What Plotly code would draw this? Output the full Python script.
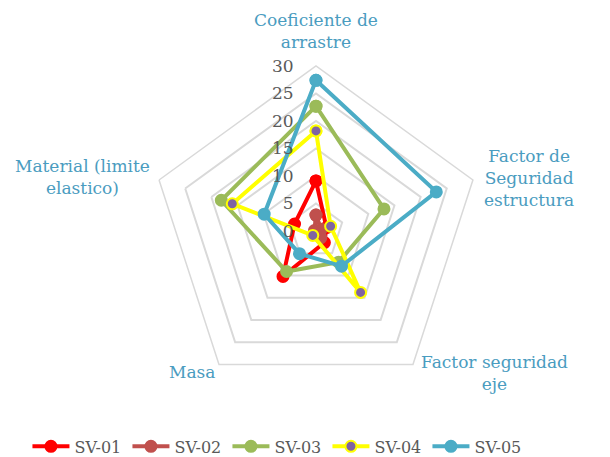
import plotly.graph_objects as go

categories = [
    "Coeficiente de arrastre",
    "Factor de Seguridad estructura",
    "Factor seguridad eje",
    "Masa",
    "Material (limite elastico)",
]
category_labels = [
    "Coeficiente de<br>arrastre",
    "Factor de<br>Seguridad<br>estructura",
    "Factor seguridad<br>eje",
    "Masa",
    "Material (limite<br>elastico)",
]
series_names = ["SV-01", "SV-02", "SV-03", "SV-04", "SV-05"]
sv01 = [9.1, 2.0, 2.6, 10.2, 4.1]
sv02 = [2.9, 1.0, 1.5, 0.5, 0.3]
sv03 = [22.7, 13.0, 7.0, 9.1, 18.1]
sv04 = [18.2, 2.8, 13.8, 1.0, 16.0]
sv05 = [27.4, 23.0, 7.9, 5.1, 9.9]
radial_ticks = [0, 5, 10, 15, 20, 25, 30]

line_colors = ["#ff0000", "#c0504d", "#9bbb59", "#ffff00", "#4bacc6"]
marker_colors = ["#ff0000", "#c0504d", "#9bbb59", "#8064a2", "#4bacc6"]
marker_lines = ["#ff0000", "#c0504d", "#9bbb59", "#ffff00", "#4bacc6"]

label_color = "#4a9cc0"
text_gray = "#595959"
serif = "DejaVu Serif"

fig = go.Figure()
for name, vals, lc, mc, ml in zip(series_names, [sv01, sv02, sv03, sv04, sv05],
                                  line_colors, marker_colors, marker_lines):
    fig.add_trace(go.Scatterpolar(
        r=vals + vals[:1],
        theta=categories + categories[:1],
        mode="lines+markers",
        name=name,
        line=dict(color=lc, width=4),
        marker=dict(size=11, color=mc, line=dict(color=ml, width=2)),
    ))

# category captions placed around the pentagon
label_pos = [(316, 31), (529, 178), (494, 373), (192, 372), (82, 177)]
for text, (px, py) in zip(category_labels, label_pos):
    fig.add_annotation(
        text=text, x=px / 610, y=1 - py / 457, xref="paper", yref="paper",
        xanchor="center", yanchor="middle", align="center", showarrow=False,
        font=dict(size=17, color=label_color, family=serif),
    )

fig.update_layout(
    width=610, height=457,
    margin=dict(l=0, r=0, t=0, b=0, autoexpand=False),
    paper_bgcolor="white",
    plot_bgcolor="white",
    font=dict(family=serif, color=text_gray),
    polar=dict(
        domain=dict(x=[0.2475, 0.7885], y=[0.1335, 0.8556]),
        bgcolor="white",
        gridshape="linear",
        radialaxis=dict(
            range=[0, 30],
            tickvals=radial_ticks,
            angle=90,
            side="counterclockwise",
            tickangle=90,
            showline=False,
            ticks="outside",
            ticklen=16,
            tickcolor="rgba(0,0,0,0)",
            gridcolor="#d9d9d9",
            gridwidth=1.5,
            tickfont=dict(size=17, color=text_gray, family=serif),
        ),
        angularaxis=dict(
            direction="clockwise",
            rotation=90,
            showgrid=False,
            showline=True,
            linecolor="#d9d9d9",
            linewidth=1.5,
            ticks="",
            showticklabels=False,
        ),
    ),
    legend=dict(
        orientation="h",
        x=0.045, xanchor="left",
        y=-0.014, yanchor="bottom",
        itemwidth=37,
        entrywidth=48,
        font=dict(size=16, color=text_gray, family=serif),
    ),
)

fig.write_html("out.html")
